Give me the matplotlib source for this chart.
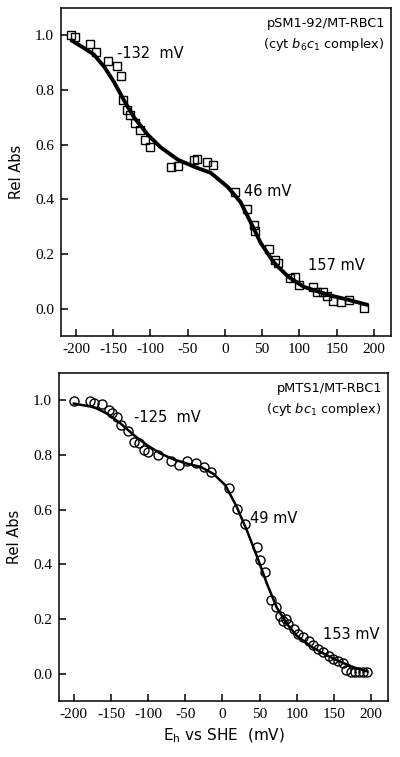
import matplotlib
matplotlib.use("Agg")
import matplotlib.pyplot as plt

# ---- Top panel data (pSM1-92/MT-RBC1, squares) ----
top_x = [-206, -201, -181, -173, -157, -145, -140, -137, -132, -127, -121, -114,
         -107, -101, -72, -63, -42, -38, -24, -16, 13, 30, 39, 40, 59, 67, 71,
         87, 94, 99, 118, 123, 132, 137, 145, 156, 166, 187]
top_y = [1.0, 0.995, 0.967, 0.94, 0.905, 0.887, 0.85, 0.763, 0.726, 0.708, 0.679, 0.653,
         0.617, 0.591, 0.518, 0.522, 0.544, 0.547, 0.536, 0.526, 0.427, 0.365, 0.307, 0.285,
         0.219, 0.179, 0.168, 0.113, 0.117, 0.088, 0.080, 0.062, 0.062, 0.047, 0.029,
         0.026, 0.033, 0.004]
top_fit_x = [-205, -190, -176, -162, -149, -136, -122, -103, -86, -63, -40, -19, 4,
             21, 35, 48, 66, 85, 106, 138, 165, 190]
top_fit_y = [0.98, 0.955, 0.93, 0.885, 0.83, 0.765, 0.70, 0.635, 0.59, 0.545, 0.518,
             0.497, 0.445, 0.39, 0.314, 0.241, 0.168, 0.117, 0.080, 0.051, 0.033, 0.015]

# ---- Bottom panel data (pMTS1/MT-RBC1, circles) ----
bot_x = [-200, -178, -173, -162, -153, -149, -142, -137, -127, -119, -112, -106, -100,
         -87, -69, -59, -48, -36, -25, -15, 9, 20, 30, 46, 50, 57, 65, 72, 77, 82,
         85, 89, 96, 102, 109, 116, 122, 129, 136, 143, 149, 156, 163, 167, 173,
         178, 184, 190, 195]
bot_y = [0.998, 0.998, 0.99, 0.988, 0.963, 0.953, 0.939, 0.908, 0.887, 0.847, 0.844,
         0.819, 0.811, 0.799, 0.778, 0.762, 0.778, 0.770, 0.756, 0.737, 0.681, 0.602,
         0.548, 0.463, 0.414, 0.371, 0.27, 0.243, 0.212, 0.194, 0.2, 0.182, 0.164,
         0.145, 0.133, 0.121, 0.103, 0.09, 0.078, 0.066, 0.054, 0.048, 0.038, 0.014,
         0.007, 0.007, 0.007, 0.007, 0.005]
bot_fit_x = [-200, -173, -155, -137, -119, -101, -83, -65, -47, -29, -12, 4, 19, 33,
             47, 60, 73, 87, 100, 120, 140, 160, 178, 195]
bot_fit_y = [0.988, 0.975, 0.951, 0.915, 0.872, 0.835, 0.805, 0.783, 0.768, 0.756,
             0.731, 0.689, 0.612, 0.524, 0.426, 0.329, 0.243, 0.182, 0.139, 0.098,
             0.068, 0.042, 0.022, 0.008]

xticks = [-200, -150, -100, -50, 0, 50, 100, 150, 200]
yticks = [0.0, 0.2, 0.4, 0.6, 0.8, 1.0]
ytick_labels = ["0.0", "0.2", "0.4", "0.6", "0.8", "1.0"]

SANS = "DejaVu Sans"
SERIF = "Liberation Serif"

fig = plt.figure(figsize=(4.0, 7.57), dpi=100)
ax1 = fig.add_axes([0.1525, 0.5561, 0.825, 0.4333])
ax2 = fig.add_axes([0.1475, 0.074, 0.8225, 0.4333])


def style(ax):
    ax.set_xlim(-220, 223)
    ax.set_ylim(-0.1, 1.1)
    ax.set_xticks(xticks)
    ax.set_xticklabels([str(t) for t in xticks], fontfamily=SERIF, fontsize=11)
    ax.set_yticks(yticks)
    ax.set_yticklabels(ytick_labels, fontfamily=SERIF, fontsize=11)
    ax.tick_params(direction="in", length=5, width=1.1, top=False, right=False, pad=5)
    for s in ax.spines.values():
        s.set_linewidth(1.1)
    ax.set_ylabel("Rel Abs", fontfamily=SANS, fontsize=10.5, labelpad=8)


ax1.plot(top_fit_x, top_fit_y, color="black", lw=2.8, zorder=3)
ax1.plot(top_x, top_y, ls="none", marker="s", ms=5.8, mfc="none", mec="black",
         mew=1.0, zorder=4)
style(ax1)
ax1.text(-145, 0.935, "-132  mV", fontfamily=SANS, fontsize=10.5, va="center")
ax1.text(26, 0.43, "46 mV", fontfamily=SANS, fontsize=10.5, va="center")
ax1.text(111, 0.158, "157 mV", fontfamily=SANS, fontsize=10.5, va="center")
ax1.text(215, 1.045, "pSM1-92/MT-RBC1", fontfamily=SANS, fontsize=9.3, ha="right", va="center")
ax1.text(214, 0.965, "(cyt $b_6c_1$ complex)", fontfamily=SANS, fontsize=9.3, ha="right", va="center")

ax2.plot(bot_fit_x, bot_fit_y, color="black", lw=1.8, zorder=3)
ax2.plot(bot_x, bot_y, ls="none", marker="o", ms=6.5, mfc="none", mec="black",
         mew=1.0, zorder=4)
style(ax2)
ax2.set_xlabel("E$_\\mathregular{h}$ vs SHE  (mV)", fontfamily=SANS, fontsize=11)
ax2.text(-119, 0.937, "-125  mV", fontfamily=SANS, fontsize=10.5, va="center")
ax2.text(37, 0.567, "49 mV", fontfamily=SANS, fontsize=10.5, va="center")
ax2.text(136, 0.145, "153 mV", fontfamily=SANS, fontsize=10.5, va="center")
ax2.text(215, 1.045, "pMTS1/MT-RBC1", fontfamily=SANS, fontsize=9.3, ha="right", va="center")
ax2.text(214, 0.967, "(cyt $bc_1$ complex)", fontfamily=SANS, fontsize=9.3, ha="right", va="center")

fig.savefig("out.png", dpi=100)
